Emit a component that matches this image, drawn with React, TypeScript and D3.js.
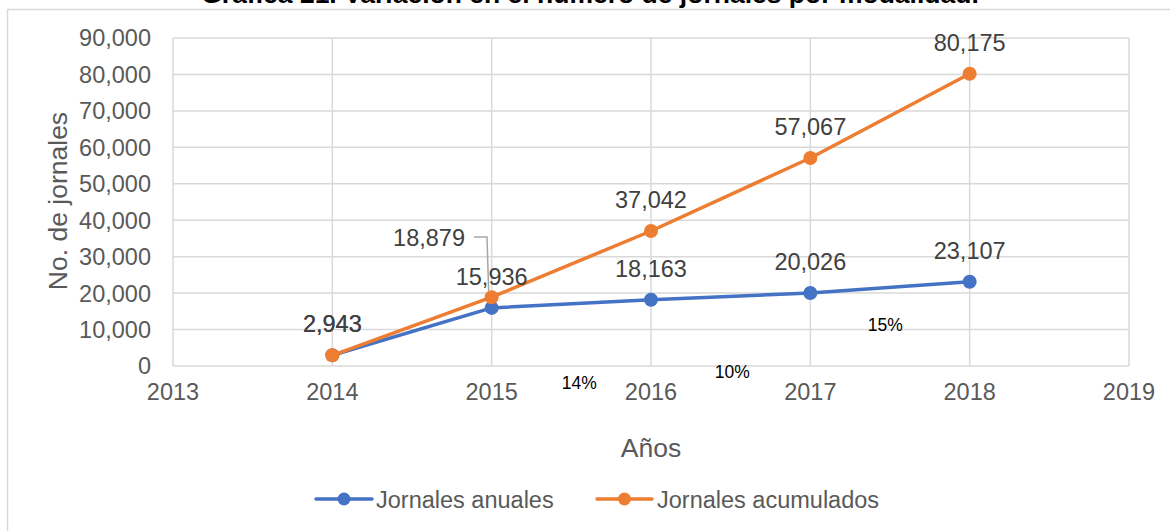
import React, { useMemo } from 'react';
import * as d3 from 'd3';

const title = 'Gráfica 21. Variación en el número de jornales por modalidad.';
const years = [2014, 2015, 2016, 2017, 2018];
const jornalesAnuales = [2943, 15936, 18163, 20026, 23107];
const jornalesAcumulados = [2943, 18879, 37042, 57067, 80175];
const xTicks = [2013, 2014, 2015, 2016, 2017, 2018, 2019];
const yTicks = [0, 10000, 20000, 30000, 40000, 50000, 60000, 70000, 80000, 90000];
const growthLabels = ['14%', '10%', '15%'];
const seriesNames = ['Jornales anuales', 'Jornales acumulados'];

const BLUE = '#4472C4';
const ORANGE = '#ED7D31';
const GRID = '#d9d9d9';
const TEXT = '#595959';
const LABEL = '#404040';
const FONT = '"Liberation Sans", Arial, sans-serif';

const App = () => {
  const width = 1170;
  const height = 531;
  const plot = { left: 173, right: 1129, top: 38, bottom: 366 };

  const { x, y } = useMemo(() => {
    const xScale = d3.scaleLinear().domain([2013, 2019]).range([plot.left, plot.right]);
    const yScale = d3.scaleLinear().domain([0, 90000]).range([plot.bottom, plot.top]);
    return { x: xScale, y: yScale };
  }, []);

  const fmt = d3.format(',');
  const line = d3.line<number>()
    .x((_, i) => x(years[i]))
    .y(d => y(d));

  // growth % labels sit between the years, roughly where the original left them
  const growthPos = [
    [2015.55, -6300],
    [2016.51, -3300],
    [2017.47, 9500],
  ];

  return (
    <svg width={width} height={height} style={{ position: 'absolute', left: 0, top: 0, fontFamily: FONT }}>
      <rect x={0} y={0} width={width} height={height} fill="#fff" />
      <text x={590} y={3} textAnchor="middle" fontSize={26.5} fontWeight="bold" fill="#000">{title}</text>
      <path d={`M7.5,${height + 10}V9.5H${width + 10}`} fill="none" stroke={GRID} strokeWidth={1.5} />

      {yTicks.map(t => (
        <line key={'h' + t} x1={plot.left} x2={plot.right} y1={y(t)} y2={y(t)} stroke={GRID} strokeWidth={1.5} />
      ))}
      {xTicks.map(t => (
        <line key={'v' + t} x1={x(t)} x2={x(t)} y1={plot.top} y2={plot.bottom} stroke={GRID} strokeWidth={1.5} />
      ))}

      {yTicks.map(t => (
        <text key={'yl' + t} x={151} y={y(t) + 8.4} textAnchor="end" fontSize={23.5} fill={TEXT}>{fmt(t)}</text>
      ))}
      {xTicks.map(t => (
        <text key={'xl' + t} x={x(t)} y={400} textAnchor="middle" fontSize={23.5} fill={TEXT}>{t}</text>
      ))}

      <text x={(plot.left + plot.right) / 2} y={457} textAnchor="middle" fontSize={26.5} fill={TEXT}>Años</text>
      <text transform="translate(67,201) rotate(-90)" textAnchor="middle" fontSize={26.5} fill={TEXT}>No. de jornales</text>

      <path d={line(jornalesAnuales) || ''} fill="none" stroke={BLUE} strokeWidth={3.5} strokeLinejoin="round" />
      {jornalesAnuales.map((v, i) => (
        <circle key={'bp' + i} cx={x(years[i])} cy={y(v)} r={7} fill={BLUE} />
      ))}
      <path d={line(jornalesAcumulados) || ''} fill="none" stroke={ORANGE} strokeWidth={3.5} strokeLinejoin="round" />
      {jornalesAcumulados.map((v, i) => (
        <circle key={'op' + i} cx={x(years[i])} cy={y(v)} r={7} fill={ORANGE} />
      ))}

      {jornalesAnuales.map((v, i) => (
        <text key={'bl' + i} x={x(years[i])} y={y(v) - 23} textAnchor="middle" fontSize={23.5} fill={LABEL}>{fmt(v)}</text>
      ))}
      {jornalesAcumulados.map((v, i) => {
        if (i === 1) {
          // moved label with leader line
          const px = x(years[i]);
          const py = y(v);
          return (
            <g key={'ol' + i}>
              <text x={465} y={246} textAnchor="end" fontSize={23.5} fill={LABEL}>{fmt(v)}</text>
              <path d={`M474,237H487L${px - 3},${py - 6}`} fill="none" stroke="#a6a6a6" strokeWidth={1.5} />
            </g>
          );
        }
        return (
          <text key={'ol' + i} x={x(years[i])} y={y(v) - 23} textAnchor="middle" fontSize={23.5} fill={LABEL}>{fmt(v)}</text>
        );
      })}

      {growthLabels.map((g, i) => (
        <text key={'g' + i} x={x(growthPos[i][0])} y={y(growthPos[i][1])} textAnchor="middle" fontSize={17.5} fill="#000">{g}</text>
      ))}

      <g>
        <line x1={316} x2={372} y1={499} y2={499} stroke={BLUE} strokeWidth={3.5} strokeLinecap="round" />
        <circle cx={344} cy={499} r={6.5} fill={BLUE} />
        <text x={376} y={507.5} fontSize={23.5} fill={TEXT}>{seriesNames[0]}</text>
        <line x1={597} x2={652} y1={499} y2={499} stroke={ORANGE} strokeWidth={3.5} strokeLinecap="round" />
        <circle cx={624.5} cy={499} r={6.5} fill={ORANGE} />
        <text x={657} y={507.5} fontSize={23.5} fill={TEXT}>{seriesNames[1]}</text>
      </g>
    </svg>
  );
};

export default App;
